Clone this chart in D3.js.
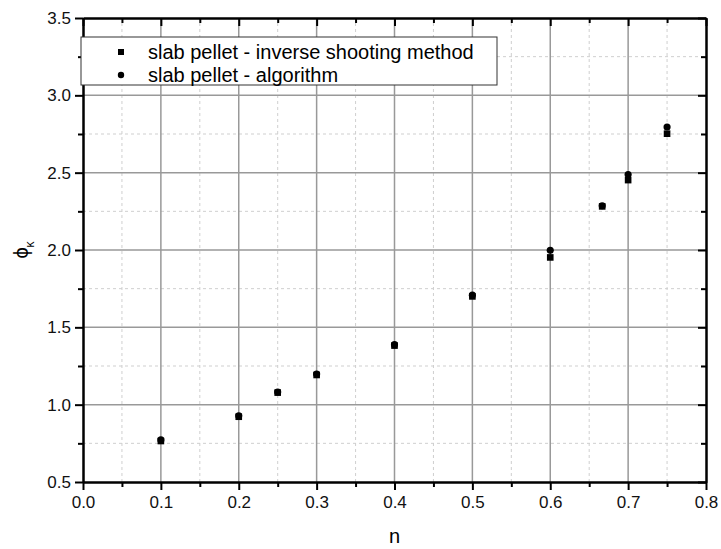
<!DOCTYPE html>
<html>
<head>
<meta charset="utf-8">
<script src="https://cdn.jsdelivr.net/npm/d3@7"></script>
<style>
  body { margin: 0; background: #fff; }
  text { font-family: "Liberation Sans", Arial, sans-serif; }
</style>
</head>
<body>
<script>
// values
var nValues = [0.1, 0.2, 0.25, 0.3, 0.4, 0.5, 0.6, 0.6667, 0.7, 0.75];
var shooting = [0.765, 0.922, 1.078, 1.192, 1.382, 1.700, 1.952, 2.282, 2.452, 2.752];
var algorithm = [0.772, 0.928, 1.082, 1.198, 1.388, 1.708, 1.998, 2.286, 2.488, 2.795];
var seriesNames = ["slab pellet - inverse shooting method", "slab pellet - algorithm"];
var xTicks = [0, 0.1, 0.2, 0.3, 0.4, 0.5, 0.6, 0.7, 0.8];
var yTicks = [0.5, 1.0, 1.5, 2.0, 2.5, 3.0, 3.5];

var width = 721, height = 549;
var margin = {top: 18, right: 15, bottom: 67, left: 83};

var svg = d3.select("body").append("svg")
    .attr("width", width)
    .attr("height", height);

var x = d3.scaleLinear().domain([0, 0.8]).range([margin.left, width - margin.right]);
var y = d3.scaleLinear().domain([0.5, 3.5]).range([height - margin.bottom, margin.top]);

var minorX = d3.range(0.05, 0.8, 0.1);
var minorY = d3.range(0.75, 3.5, 0.5);

// grid
var grid = svg.append("g");
grid.selectAll(".mx").data(minorX).enter().append("line")
    .attr("x1", d => x(d)).attr("x2", d => x(d))
    .attr("y1", y(0.5)).attr("y2", y(3.5))
    .attr("stroke", "#cfcfcf").attr("stroke-dasharray", "3,3");
grid.selectAll(".my").data(minorY).enter().append("line")
    .attr("y1", d => y(d)).attr("y2", d => y(d))
    .attr("x1", x(0)).attr("x2", x(0.8))
    .attr("stroke", "#cfcfcf").attr("stroke-dasharray", "3,3");
grid.selectAll(".gx").data(xTicks.slice(1, -1)).enter().append("line")
    .attr("x1", d => x(d)).attr("x2", d => x(d))
    .attr("y1", y(0.5)).attr("y2", y(3.5))
    .attr("stroke", "#999").attr("stroke-width", 1.5);
grid.selectAll(".gy").data(yTicks.slice(1, -1)).enter().append("line")
    .attr("y1", d => y(d)).attr("y2", d => y(d))
    .attr("x1", x(0)).attr("x2", x(0.8))
    .attr("stroke", "#999").attr("stroke-width", 1.5);

// axes
var fmt = d3.format(".1f");
function styleAxis(g) {
  g.select(".domain").attr("stroke", "#000").attr("stroke-width", 2);
  g.selectAll(".tick line").attr("stroke", "#000").attr("stroke-width", 2);
  g.selectAll("text").style("font-size", "17px").attr("fill", "#111");
}

svg.append("g").attr("transform", "translate(0," + y(0.5) + ")")
    .call(d3.axisBottom(x).tickValues(xTicks).tickFormat(fmt).tickSize(8).tickSizeOuter(0).tickPadding(6))
    .call(styleAxis);
svg.append("g").attr("transform", "translate(0," + y(0.5) + ")")
    .call(d3.axisBottom(x).tickValues(minorX).tickFormat("").tickSize(5).tickSizeOuter(0))
    .call(styleAxis);
svg.append("g").attr("transform", "translate(" + x(0) + ",0)")
    .call(d3.axisLeft(y).tickValues(yTicks).tickFormat(fmt).tickSize(8).tickSizeOuter(0).tickPadding(4))
    .call(styleAxis);
svg.append("g").attr("transform", "translate(" + x(0) + ",0)")
    .call(d3.axisLeft(y).tickValues(minorY).tickFormat("").tickSize(5).tickSizeOuter(0))
    .call(styleAxis);
svg.append("g").attr("transform", "translate(0," + y(3.5) + ")")
    .call(d3.axisTop(x).tickValues(xTicks).tickFormat("").tickSize(-8).tickSizeOuter(0))
    .call(styleAxis);
svg.append("g").attr("transform", "translate(0," + y(3.5) + ")")
    .call(d3.axisTop(x).tickValues(minorX).tickFormat("").tickSize(-5).tickSizeOuter(0))
    .call(styleAxis);
svg.append("g").attr("transform", "translate(" + x(0.8) + ",0)")
    .call(d3.axisRight(y).tickValues(yTicks).tickFormat("").tickSize(-8).tickSizeOuter(0))
    .call(styleAxis);
svg.append("g").attr("transform", "translate(" + x(0.8) + ",0)")
    .call(d3.axisRight(y).tickValues(minorY).tickFormat("").tickSize(-5).tickSizeOuter(0))
    .call(styleAxis);

// axis titles
svg.append("text")
    .attr("x", (x(0) + x(0.8)) / 2).attr("y", 543)
    .attr("text-anchor", "middle")
    .style("font-size", "20px")
    .text("n");

var yl = svg.append("text")
    .attr("transform", "translate(28," + ((y(0.5) + y(3.5)) / 2) + ") rotate(-90)")
    .attr("text-anchor", "middle")
    .style("font-size", "20px");
yl.append("tspan").text("\u03d5");
yl.append("tspan").attr("dy", 6).style("font-size", "12px").text("\u03ba");

// points
svg.append("g").selectAll("path").data(nValues).enter().append("path")
    .attr("transform", (d, i) => "translate(" + x(d) + "," + y(shooting[i]) + ")")
    .attr("d", d3.symbol().type(d3.symbolSquare).size(44)())
    .attr("fill", "#000");
svg.append("g").selectAll("path").data(nValues).enter().append("path")
    .attr("transform", (d, i) => "translate(" + x(d) + "," + y(algorithm[i]) + ")")
    .attr("d", d3.symbol().type(d3.symbolCircle).size(40)())
    .attr("fill", "#000");

// legend
var lg = svg.append("g");
lg.append("rect")
    .attr("x", 81).attr("y", 37).attr("width", 416).attr("height", 48)
    .attr("fill", "#fff").attr("stroke", "#333").attr("stroke-width", 1);
lg.selectAll("text").data(seriesNames).enter().append("text")
    .attr("x", 148).attr("y", (d, i) => 59 + i * 23)
    .style("font-size", "20px")
    .text(d => d);
lg.append("path")
    .attr("transform", "translate(121,52)")
    .attr("d", d3.symbol().type(d3.symbolSquare).size(36)());
lg.append("path")
    .attr("transform", "translate(121,75)")
    .attr("d", d3.symbol().type(d3.symbolCircle).size(32)());
</script>
</body>
</html>
